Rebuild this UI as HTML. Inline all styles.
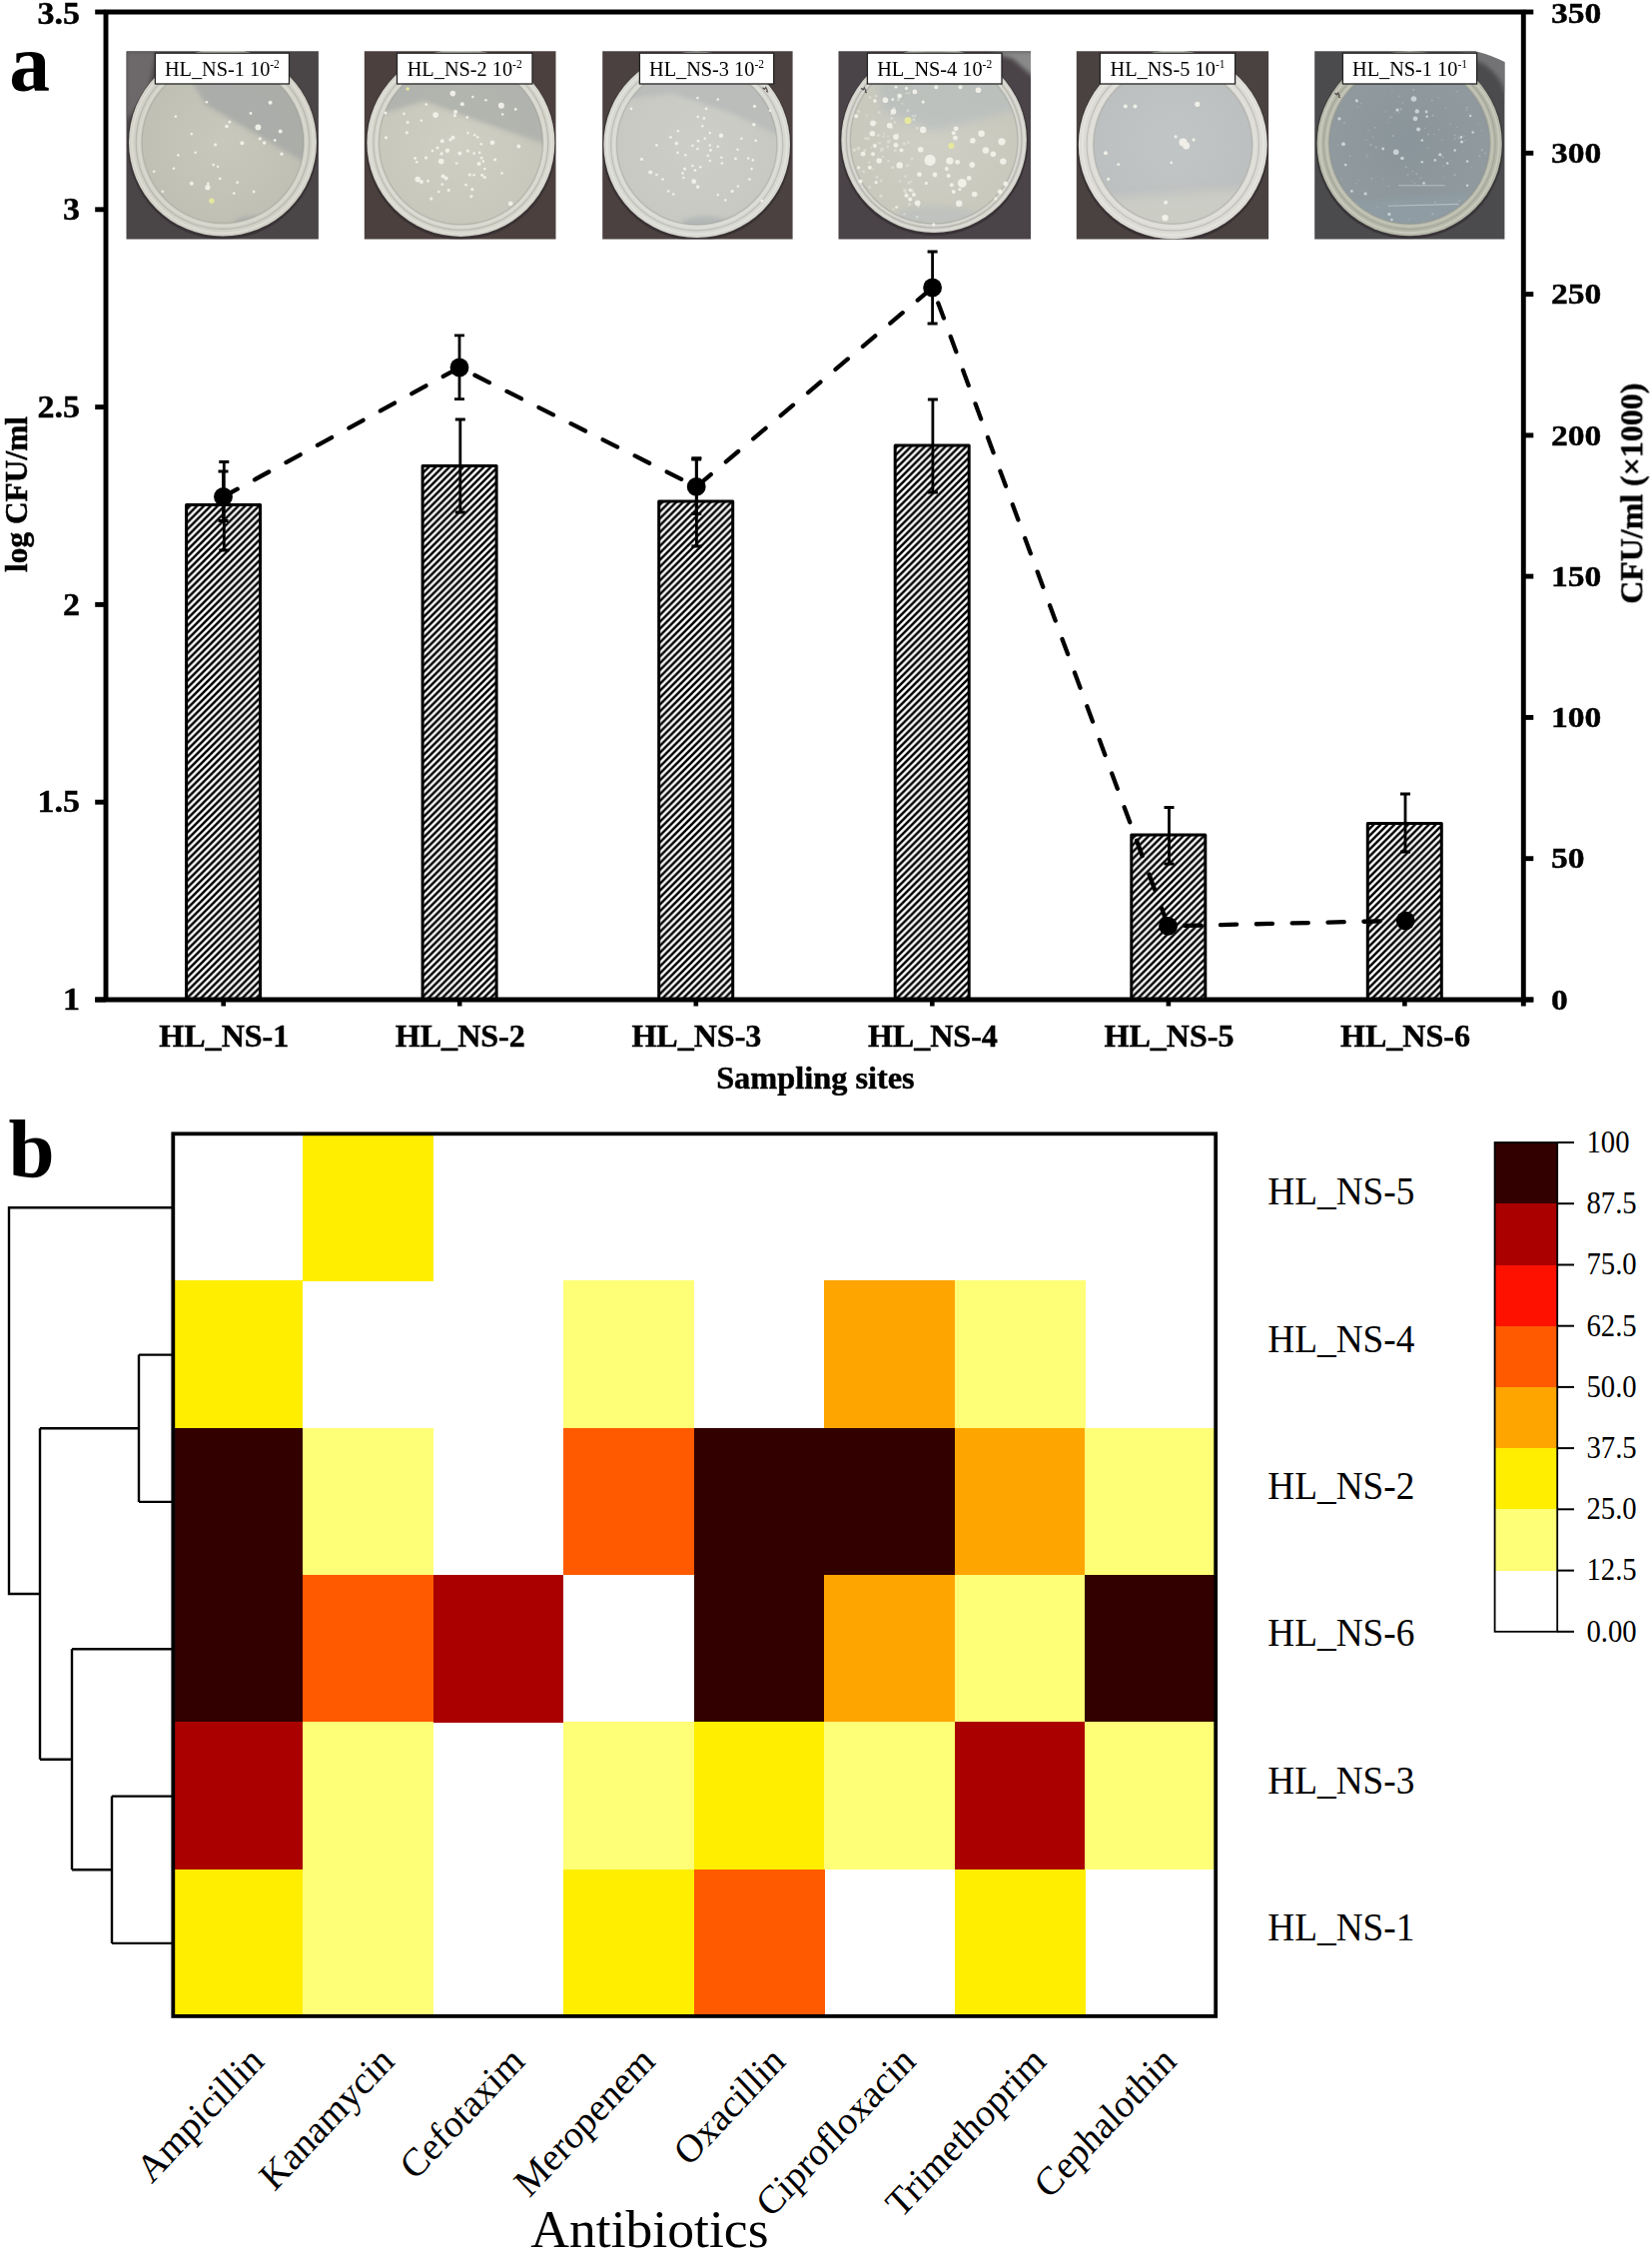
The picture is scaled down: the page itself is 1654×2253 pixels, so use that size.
<!DOCTYPE html>
<html lang="en"><head><meta charset="utf-8"><title>Figure</title>
<style>
html,body{margin:0;padding:0;background:#fff;}
body{width:1654px;height:2253px;overflow:hidden;}
svg{display:block;}
text{font-family:"Liberation Serif", "DejaVu Serif", serif;fill:#000;}
.b{font-weight:bold;}
</style></head><body>
<svg width="1654" height="2253" viewBox="0 0 1654 2253">
<defs>
<pattern id="hatch" patternUnits="userSpaceOnUse" width="6.9" height="6.9">
<rect width="6.9" height="6.9" fill="#fff"/>
<path d="M-1.725,1.725 L1.725,-1.725 M0,6.9 L6.9,0 M5.175,8.625 L8.625,5.175" stroke="#000" stroke-width="2.5"/>
</pattern>
<filter id="soft" x="-5%" y="-5%" width="110%" height="110%"><feGaussianBlur stdDeviation="0.6"/></filter>
<filter id="blur05"><feGaussianBlur stdDeviation="0.5"/></filter>
<filter id="blur1"><feGaussianBlur stdDeviation="0.75"/></filter>
<filter id="blur2"><feGaussianBlur stdDeviation="2.2"/></filter>
<filter id="blur4"><feGaussianBlur stdDeviation="5"/></filter>
</defs>
<rect width="1654" height="2253" fill="#fff"/>

<g id="panelA">
<g transform="translate(126.5,51.2)">
<clipPath id="pc0"><rect x="0" y="0" width="192.4" height="188.4"/></clipPath>
<clipPath id="pi0"><circle cx="96.5" cy="91.3" r="81"/></clipPath>
<radialGradient id="pg0" cx="96.5" cy="91.3" r="94" gradientUnits="userSpaceOnUse"><stop offset="0" stop-color="#c9c8bd"/><stop offset="0.8" stop-color="#c1c0b5"/><stop offset="1" stop-color="#c1c0b5"/></radialGradient>
<g clip-path="url(#pc0)">
<rect x="-6" y="-6" width="204.4" height="200.4" fill="#4a4547"/>
<g filter="url(#blur1)">
<path d="M0,0 H30 L22,40 L0,70Z" fill="#6d696a" filter="url(#blur2)"/>
<circle cx="96.5" cy="92.8" r="95.5" fill="#2e2a2b" opacity="0.6"/>
<circle cx="96.5" cy="91.3" r="94" fill="#d2d1c7"/>
<circle cx="96.5" cy="91.3" r="90.8" fill="none" stroke="#fff" stroke-opacity="0.25" stroke-width="1.8"/>
<circle cx="96.5" cy="91.3" r="86.8" fill="none" stroke="#77776e" stroke-opacity="0.28" stroke-width="1.2"/>
<circle cx="96.5" cy="91.3" r="83.6" fill="none" stroke="#fff" stroke-opacity="0.18" stroke-width="1.6"/>
<circle cx="96.5" cy="91.3" r="81" fill="url(#pg0)"/>
<g clip-path="url(#pi0)">
<path d="M64,28 L80,54 L200,124 L200,-10 L64,-10Z" fill="#a9aca8" opacity="0.95" filter="url(#blur2)"/>
<path d="M108,170 Q125,160 160,170 L150,192 L105,192Z" fill="#a4a9a8" opacity="0.8" filter="url(#blur2)"/>
</g>
<circle cx="96.5" cy="91.3" r="81" fill="none" stroke="#8f9088" stroke-opacity="0.35" stroke-width="1.4"/>
<g fill="#f2f2ea" opacity="0.95" filter="url(#blur05)"><circle cx="80.4" cy="51.1" r="1.3"/><circle cx="144.1" cy="51.5" r="2.0"/><circle cx="124.5" cy="62.3" r="1.4"/><circle cx="49.4" cy="65.4" r="1.3"/><circle cx="103.4" cy="71.0" r="1.4"/><circle cx="100.5" cy="75.4" r="1.8"/><circle cx="131.9" cy="76.3" r="3.0"/><circle cx="154.2" cy="80.3" r="2.0"/><circle cx="65.3" cy="82.9" r="1.3"/><circle cx="133.8" cy="87.7" r="1.6"/><circle cx="138.1" cy="91.8" r="1.8"/><circle cx="148.7" cy="89.3" r="1.4"/><circle cx="115.8" cy="92.1" r="2.0"/><circle cx="89.1" cy="93.7" r="1.6"/><circle cx="155.5" cy="103.0" r="1.6"/><circle cx="69.2" cy="101.5" r="1.3"/><circle cx="51.9" cy="104.2" r="1.3"/><circle cx="87.2" cy="113.9" r="1.4"/><circle cx="91.6" cy="115.6" r="1.3"/><circle cx="27.7" cy="120.6" r="1.3"/><circle cx="47.5" cy="117.6" r="1.3"/><circle cx="93.8" cy="127.6" r="1.4"/><circle cx="111.2" cy="131.5" r="1.4"/><circle cx="65.3" cy="132.5" r="2.0"/><circle cx="81.4" cy="136.5" r="2.6"/><circle cx="81.9" cy="132.8" r="1.4"/><circle cx="36.4" cy="140.5" r="1.3"/><circle cx="107.7" cy="142.4" r="1.4"/><circle cx="127.6" cy="140.8" r="1.4"/></g>
<g fill="#e6e89c"><circle cx="85.4" cy="149.9" r="2.7"/></g>
</g></g>
</g>
<g filter="url(#soft)"><rect x="155.4" y="53.2" width="134.1" height="30.8" fill="#fff" stroke="#222" stroke-width="1.3"/>
<text x="222.4" y="76.2" text-anchor="middle" font-size="20.3" style="font-family:'Liberation Serif', 'DejaVu Serif', serif">HL_NS-1 10<tspan font-size="11.5" dy="-8">-2</tspan></text></g>
<g transform="translate(364.8,51.2)">
<clipPath id="pc1"><rect x="0" y="0" width="191.7" height="188.4"/></clipPath>
<clipPath id="pi1"><circle cx="96.6" cy="91.7" r="82"/></clipPath>
<radialGradient id="pg1" cx="96.6" cy="91.7" r="94" gradientUnits="userSpaceOnUse"><stop offset="0" stop-color="#cfcfc4"/><stop offset="0.8" stop-color="#c8c8bd"/><stop offset="1" stop-color="#c8c8bd"/></radialGradient>
<g clip-path="url(#pc1)">
<rect x="-6" y="-6" width="203.7" height="200.4" fill="#4b403e"/>
<g filter="url(#blur1)">
<circle cx="96.6" cy="93.2" r="95.5" fill="#2e2a2b" opacity="0.6"/>
<circle cx="96.6" cy="91.7" r="94" fill="#d5d5cc"/>
<circle cx="96.6" cy="91.7" r="91.0" fill="none" stroke="#fff" stroke-opacity="0.25" stroke-width="1.8"/>
<circle cx="96.6" cy="91.7" r="87.4" fill="none" stroke="#77776e" stroke-opacity="0.28" stroke-width="1.2"/>
<circle cx="96.6" cy="91.7" r="84.4" fill="none" stroke="#fff" stroke-opacity="0.18" stroke-width="1.6"/>
<circle cx="96.6" cy="91.7" r="82" fill="url(#pg1)"/>
<g clip-path="url(#pi1)">
<path d="M20,-10 L20,62 L60,50 L120,72 L200,100 L200,-10Z" fill="#b0b3ad" opacity="0.95" filter="url(#blur2)"/>
<path d="M88,180 Q110,168 140,178 L140,192 L88,192Z" fill="#aeb3b2" opacity="0.7" filter="url(#blur2)"/>
</g>
<circle cx="96.6" cy="91.7" r="82" fill="none" stroke="#8f9088" stroke-opacity="0.35" stroke-width="1.4"/>
<g fill="#f2f2ea" opacity="0.95" filter="url(#blur05)"><circle cx="88.5" cy="42.4" r="2.8"/><circle cx="98.0" cy="53.1" r="2.0"/><circle cx="137.1" cy="54.6" r="3.0"/><circle cx="62.0" cy="53.4" r="1.4"/><circle cx="108.6" cy="45.9" r="1.3"/><circle cx="121.6" cy="49.0" r="1.3"/><circle cx="151.4" cy="58.3" r="1.4"/><circle cx="91.2" cy="60.8" r="2.0"/><circle cx="90.6" cy="64.5" r="1.6"/><circle cx="71.3" cy="63.9" r="2.8"/><circle cx="103.0" cy="66.4" r="1.4"/><circle cx="138.4" cy="63.3" r="1.3"/><circle cx="21.1" cy="61.8" r="1.6"/><circle cx="39.7" cy="62.7" r="1.3"/><circle cx="43.4" cy="71.3" r="1.6"/><circle cx="57.1" cy="69.5" r="1.3"/><circle cx="42.6" cy="81.6" r="1.6"/><circle cx="21.7" cy="86.6" r="1.6"/><circle cx="103.6" cy="81.9" r="1.3"/><circle cx="110.4" cy="84.1" r="1.3"/><circle cx="113.5" cy="86.2" r="1.3"/><circle cx="88.7" cy="86.6" r="2.0"/><circle cx="86.2" cy="88.7" r="1.6"/><circle cx="77.9" cy="90.0" r="2.0"/><circle cx="128.2" cy="91.6" r="2.4"/><circle cx="154.5" cy="95.3" r="2.0"/><circle cx="117.0" cy="93.1" r="1.3"/><circle cx="73.2" cy="96.8" r="1.6"/><circle cx="68.2" cy="99.9" r="1.4"/><circle cx="83.1" cy="99.5" r="2.2"/><circle cx="77.3" cy="102.7" r="1.6"/><circle cx="95.5" cy="102.4" r="2.0"/><circle cx="103.6" cy="99.9" r="1.6"/><circle cx="109.8" cy="102.4" r="1.3"/><circle cx="115.4" cy="101.7" r="1.3"/><circle cx="61.8" cy="106.7" r="1.6"/><circle cx="50.9" cy="107.3" r="1.4"/><circle cx="52.5" cy="111.1" r="1.3"/><circle cx="76.9" cy="110.4" r="2.8"/><circle cx="117.3" cy="107.0" r="1.4"/><circle cx="130.9" cy="108.6" r="1.6"/><circle cx="114.8" cy="112.9" r="2.0"/><circle cx="119.1" cy="110.4" r="1.3"/><circle cx="92.4" cy="112.3" r="1.3"/><circle cx="120.4" cy="117.9" r="1.3"/><circle cx="137.7" cy="122.2" r="1.3"/><circle cx="105.5" cy="123.8" r="1.6"/><circle cx="109.8" cy="124.1" r="1.3"/><circle cx="117.9" cy="124.1" r="1.6"/><circle cx="120.4" cy="126.3" r="1.6"/><circle cx="78.8" cy="125.3" r="2.0"/><circle cx="81.9" cy="127.2" r="2.0"/><circle cx="53.4" cy="128.4" r="2.8"/><circle cx="57.1" cy="130.9" r="2.0"/><circle cx="63.7" cy="130.0" r="1.4"/><circle cx="77.9" cy="133.4" r="1.3"/><circle cx="101.7" cy="134.0" r="1.4"/><circle cx="108.0" cy="138.4" r="1.6"/><circle cx="84.4" cy="139.2" r="1.6"/><circle cx="74.5" cy="140.8" r="1.3"/><circle cx="107.1" cy="145.4" r="1.6"/><circle cx="67.0" cy="147.7" r="1.6"/><circle cx="146.4" cy="152.6" r="2.4"/></g>
<g fill="#e6e89c"><circle cx="43.4" cy="37.8" r="1.7"/></g>
</g></g>
</g>
<g filter="url(#soft)"><rect x="397.5" y="53.2" width="135.5" height="30.8" fill="#fff" stroke="#222" stroke-width="1.3"/>
<text x="465.2" y="76.2" text-anchor="middle" font-size="20.3" style="font-family:'Liberation Serif', 'DejaVu Serif', serif">HL_NS-2 10<tspan font-size="11.5" dy="-8">-2</tspan></text></g>
<g transform="translate(603.2,51.2)">
<clipPath id="pc2"><rect x="0" y="0" width="190.4" height="188.4"/></clipPath>
<clipPath id="pi2"><circle cx="94.5" cy="93.5" r="80.3"/></clipPath>
<radialGradient id="pg2" cx="94.5" cy="93.5" r="93.3" gradientUnits="userSpaceOnUse"><stop offset="0" stop-color="#cdcec8"/><stop offset="0.8" stop-color="#c8c9c3"/><stop offset="1" stop-color="#c8c9c3"/></radialGradient>
<g clip-path="url(#pc2)">
<rect x="-6" y="-6" width="202.4" height="200.4" fill="#4a4140"/>
<g filter="url(#blur1)">
<circle cx="94.5" cy="95.0" r="94.8" fill="#2e2a2b" opacity="0.6"/>
<circle cx="94.5" cy="93.5" r="93.3" fill="#d8d8d2"/>
<circle cx="94.5" cy="93.5" r="90.0" fill="none" stroke="#fff" stroke-opacity="0.25" stroke-width="1.8"/>
<circle cx="94.5" cy="93.5" r="86.1" fill="none" stroke="#77776e" stroke-opacity="0.28" stroke-width="1.2"/>
<circle cx="94.5" cy="93.5" r="82.9" fill="none" stroke="#fff" stroke-opacity="0.18" stroke-width="1.6"/>
<circle cx="94.5" cy="93.5" r="80.3" fill="url(#pg2)"/>
<g clip-path="url(#pi2)">
<path d="M20,-10 L20,48 L70,42 L130,62 L200,95 L200,-10Z" fill="#b8bcba" opacity="0.9" filter="url(#blur2)"/>
<path d="M80,170 Q105,160 135,172 L135,192 L80,192Z" fill="#aab0b1" opacity="0.7" filter="url(#blur2)"/>
</g>
<circle cx="94.5" cy="93.5" r="80.3" fill="none" stroke="#8f9088" stroke-opacity="0.35" stroke-width="1.4"/>
<g fill="#f2f2ea" opacity="0.95" filter="url(#blur05)"><circle cx="95.2" cy="46.9" r="1.3"/><circle cx="115.6" cy="48.4" r="1.3"/><circle cx="152.3" cy="55.2" r="1.6"/><circle cx="103.9" cy="57.7" r="1.4"/><circle cx="28.8" cy="57.7" r="1.3"/><circle cx="167.8" cy="59.6" r="1.3"/><circle cx="95.5" cy="65.8" r="1.3"/><circle cx="101.7" cy="67.3" r="1.4"/><circle cx="151.6" cy="73.5" r="1.8"/><circle cx="100.1" cy="75.1" r="1.3"/><circle cx="75.7" cy="80.0" r="1.3"/><circle cx="107.6" cy="81.9" r="1.3"/><circle cx="118.7" cy="84.6" r="2.2"/><circle cx="68.2" cy="86.2" r="1.3"/><circle cx="102.6" cy="87.5" r="1.3"/><circle cx="139.2" cy="87.5" r="1.3"/><circle cx="153.5" cy="89.6" r="1.4"/><circle cx="95.8" cy="90.0" r="1.4"/><circle cx="74.1" cy="92.4" r="1.8"/><circle cx="54.2" cy="94.1" r="1.4"/><circle cx="90.2" cy="94.6" r="1.3"/><circle cx="95.2" cy="97.8" r="1.3"/><circle cx="107.6" cy="94.3" r="1.3"/><circle cx="115.6" cy="95.5" r="1.3"/><circle cx="108.2" cy="99.3" r="1.4"/><circle cx="135.3" cy="98.6" r="1.3"/><circle cx="75.3" cy="101.7" r="1.3"/><circle cx="83.1" cy="104.0" r="1.3"/><circle cx="105.7" cy="104.5" r="1.3"/><circle cx="119.1" cy="106.5" r="1.3"/><circle cx="133.3" cy="107.7" r="1.4"/><circle cx="39.3" cy="108.2" r="1.6"/><circle cx="146.0" cy="107.3" r="1.3"/><circle cx="150.6" cy="109.2" r="1.3"/><circle cx="107.6" cy="109.8" r="1.3"/><circle cx="119.6" cy="112.3" r="1.3"/><circle cx="90.2" cy="114.8" r="1.3"/><circle cx="98.0" cy="116.0" r="1.3"/><circle cx="82.4" cy="117.9" r="1.6"/><circle cx="92.7" cy="119.4" r="1.4"/><circle cx="149.4" cy="117.9" r="1.3"/><circle cx="48.0" cy="121.4" r="2.0"/><circle cx="54.2" cy="123.8" r="1.3"/><circle cx="80.3" cy="122.2" r="1.3"/><circle cx="81.2" cy="126.8" r="1.3"/><circle cx="60.4" cy="128.4" r="1.4"/><circle cx="147.3" cy="128.4" r="1.4"/><circle cx="91.5" cy="130.5" r="2.4"/><circle cx="95.5" cy="135.9" r="1.8"/><circle cx="135.7" cy="135.3" r="1.3"/><circle cx="129.9" cy="140.2" r="1.6"/><circle cx="66.0" cy="140.2" r="1.3"/><circle cx="71.0" cy="143.3" r="1.3"/><circle cx="115.6" cy="143.9" r="1.3"/><circle cx="123.1" cy="149.2" r="1.3"/><circle cx="159.7" cy="149.9" r="1.6"/></g>
<path d="M160.3,36.5 l2,1.6 l1.2,-1.8 l1.8,3.4 M163.8,40.0 l2.2,1" stroke="#3a2f33" stroke-width="1.2" fill="none" opacity="0.8"/>
</g></g>
</g>
<g filter="url(#soft)"><rect x="640.4" y="53.2" width="134.3" height="30.8" fill="#fff" stroke="#222" stroke-width="1.3"/>
<text x="707.5" y="76.2" text-anchor="middle" font-size="20.3" style="font-family:'Liberation Serif', 'DejaVu Serif', serif">HL_NS-3 10<tspan font-size="11.5" dy="-8">-2</tspan></text></g>
<g transform="translate(839.5,51.2)">
<clipPath id="pc3"><rect x="0" y="0" width="192.5" height="188.4"/></clipPath>
<clipPath id="pi3"><circle cx="95.6" cy="89" r="83.8"/></clipPath>
<radialGradient id="pg3" cx="95.6" cy="89" r="92.8" gradientUnits="userSpaceOnUse"><stop offset="0" stop-color="#cfcfc5"/><stop offset="0.8" stop-color="#c9c9be"/><stop offset="1" stop-color="#c9c9be"/></radialGradient>
<g clip-path="url(#pc3)">
<rect x="-6" y="-6" width="204.5" height="200.4" fill="#4a4347"/>
<g filter="url(#blur1)">
<path d="M150,0 H200 V30 L175,8Z" fill="#8a8a8a" filter="url(#blur2)"/>
<circle cx="95.6" cy="90.5" r="94.3" fill="#2e2a2b" opacity="0.6"/>
<circle cx="95.6" cy="89" r="92.8" fill="#d0d0c8"/>
<circle cx="95.6" cy="89" r="90.5" fill="none" stroke="#fff" stroke-opacity="0.25" stroke-width="1.8"/>
<circle cx="95.6" cy="89" r="87.8" fill="none" stroke="#77776e" stroke-opacity="0.28" stroke-width="1.2"/>
<circle cx="95.6" cy="89" r="85.6" fill="none" stroke="#fff" stroke-opacity="0.18" stroke-width="1.6"/>
<circle cx="95.6" cy="89" r="83.8" fill="url(#pg3)"/>
<g clip-path="url(#pi3)">
<path d="M30,-10 L45,60 L95,80 L150,66 L200,52 L200,-10Z" fill="#b6bcbd" opacity="0.7" filter="url(#blur4)"/>
<path d="M60,160 Q100,148 150,165 L150,192 L60,192Z" fill="#b9bfbf" opacity="0.6" filter="url(#blur2)"/>
</g>
<circle cx="95.6" cy="89" r="83.8" fill="none" stroke="#8f9088" stroke-opacity="0.35" stroke-width="1.4"/>
<g fill="#f2f2ea" opacity="0.95" filter="url(#blur05)"><circle cx="57.5" cy="36.0" r="1.4"/><circle cx="68.0" cy="37.2" r="1.6"/><circle cx="97.8" cy="36.0" r="2.0"/><circle cx="122.0" cy="36.0" r="2.0"/><circle cx="140.0" cy="39.1" r="2.8"/><circle cx="76.4" cy="40.7" r="2.4"/><circle cx="61.2" cy="44.9" r="2.4"/><circle cx="46.9" cy="49.0" r="2.8"/><circle cx="36.4" cy="49.9" r="1.8"/><circle cx="54.3" cy="48.4" r="1.4"/><circle cx="84.7" cy="50.9" r="1.6"/><circle cx="55.0" cy="60.6" r="2.8"/><circle cx="17.7" cy="65.1" r="2.0"/><circle cx="34.5" cy="72.2" r="2.8"/><circle cx="51.2" cy="74.5" r="2.8"/><circle cx="84.7" cy="78.8" r="3.2"/><circle cx="117.6" cy="77.6" r="2.4"/><circle cx="115.2" cy="82.1" r="2.0"/><circle cx="143.1" cy="82.5" r="3.2"/><circle cx="33.9" cy="82.5" r="2.8"/><circle cx="57.5" cy="85.9" r="2.8"/><circle cx="117.0" cy="86.9" r="2.4"/><circle cx="134.4" cy="89.6" r="2.8"/><circle cx="163.5" cy="90.6" r="3.6"/><circle cx="57.5" cy="94.1" r="2.4"/><circle cx="36.4" cy="94.9" r="2.0"/><circle cx="82.3" cy="98.6" r="2.8"/><circle cx="63.0" cy="99.3" r="2.0"/><circle cx="147.4" cy="99.3" r="3.2"/><circle cx="154.9" cy="103.0" r="2.8"/><circle cx="24.6" cy="103.0" r="2.4"/><circle cx="34.5" cy="103.0" r="2.0"/><circle cx="91.6" cy="109.2" r="5.6"/><circle cx="111.4" cy="109.8" r="3.6"/><circle cx="119.1" cy="111.1" r="2.4"/><circle cx="40.7" cy="109.8" r="2.8"/><circle cx="164.8" cy="110.4" r="3.2"/><circle cx="133.8" cy="113.9" r="2.8"/><circle cx="61.2" cy="114.2" r="3.2"/><circle cx="31.4" cy="116.6" r="2.0"/><circle cx="20.2" cy="116.6" r="1.6"/><circle cx="108.3" cy="117.9" r="2.0"/><circle cx="81.0" cy="123.5" r="2.4"/><circle cx="96.5" cy="123.8" r="2.4"/><circle cx="110.2" cy="124.7" r="2.0"/><circle cx="130.7" cy="127.2" r="2.4"/><circle cx="22.1" cy="130.3" r="2.0"/><circle cx="37.6" cy="131.5" r="1.6"/><circle cx="123.8" cy="132.2" r="4.4"/><circle cx="87.9" cy="132.2" r="1.6"/><circle cx="113.3" cy="134.0" r="2.0"/><circle cx="167.3" cy="132.8" r="2.4"/><circle cx="121.4" cy="138.4" r="1.6"/><circle cx="115.2" cy="140.8" r="2.0"/><circle cx="161.7" cy="140.8" r="2.4"/><circle cx="136.2" cy="143.3" r="2.8"/><circle cx="71.7" cy="139.0" r="1.6"/><circle cx="68.0" cy="144.6" r="2.0"/><circle cx="75.4" cy="143.9" r="2.0"/><circle cx="71.7" cy="148.3" r="2.0"/><circle cx="79.2" cy="152.0" r="2.8"/><circle cx="120.7" cy="152.6" r="3.2"/><circle cx="157.3" cy="147.7" r="1.6"/><circle cx="58.1" cy="156.3" r="1.3"/><circle cx="95.3" cy="173.7" r="1.6"/></g>
<g fill="#f0f0e6" opacity="0.45" filter="url(#blur05)"><circle cx="49.1" cy="95.8" r="1.4"/><circle cx="67.3" cy="125.0" r="1.0"/><circle cx="45.5" cy="82.6" r="1.0"/><circle cx="51.4" cy="89.6" r="1.1"/><circle cx="56.6" cy="99.4" r="1.5"/><circle cx="55.7" cy="57.3" r="1.6"/><circle cx="78.7" cy="166.0" r="1.4"/><circle cx="29.8" cy="87.6" r="1.7"/><circle cx="30.6" cy="111.4" r="1.2"/><circle cx="68.8" cy="60.3" r="1.0"/><circle cx="37.7" cy="44.8" r="1.3"/><circle cx="66.9" cy="125.5" r="1.3"/><circle cx="69.6" cy="59.5" r="1.4"/><circle cx="34.9" cy="118.2" r="0.9"/><circle cx="63.8" cy="52.6" r="1.0"/><circle cx="66.1" cy="163.2" r="1.2"/><circle cx="37.8" cy="71.9" r="1.1"/><circle cx="52.4" cy="63.2" r="0.9"/><circle cx="40.8" cy="61.4" r="1.4"/><circle cx="67.1" cy="141.1" r="1.3"/><circle cx="33.0" cy="96.5" r="0.8"/><circle cx="59.3" cy="83.1" r="1.1"/><circle cx="50.0" cy="90.8" r="1.7"/><circle cx="56.5" cy="71.4" r="1.3"/><circle cx="73.6" cy="107.6" r="1.4"/><circle cx="41.2" cy="92.1" r="1.2"/><circle cx="50.1" cy="110.0" r="1.3"/><circle cx="19.9" cy="97.4" r="1.8"/><circle cx="37.9" cy="44.6" r="0.8"/><circle cx="46.6" cy="46.6" r="0.9"/><circle cx="15.8" cy="99.0" r="1.8"/><circle cx="42.9" cy="99.6" r="1.2"/><circle cx="44.1" cy="98.1" r="1.5"/><circle cx="72.7" cy="130.7" r="1.2"/><circle cx="54.8" cy="158.2" r="1.0"/><circle cx="25.1" cy="120.5" r="1.5"/><circle cx="54.3" cy="116.5" r="1.6"/><circle cx="42.5" cy="145.0" r="1.8"/><circle cx="59.7" cy="155.5" r="0.8"/><circle cx="73.7" cy="139.7" r="1.8"/><circle cx="78.7" cy="77.1" r="1.5"/><circle cx="74.2" cy="65.0" r="1.1"/><circle cx="80.0" cy="155.4" r="1.3"/><circle cx="61.5" cy="130.4" r="1.3"/><circle cx="38.5" cy="126.3" r="1.4"/><circle cx="27.1" cy="87.4" r="1.4"/><circle cx="53.2" cy="67.2" r="1.4"/><circle cx="71.0" cy="153.3" r="1.5"/><circle cx="26.3" cy="99.4" r="1.6"/><circle cx="53.3" cy="76.7" r="1.5"/><circle cx="44.5" cy="106.0" r="1.1"/><circle cx="39.8" cy="84.4" r="1.5"/><circle cx="42.7" cy="98.1" r="1.3"/><circle cx="42.6" cy="129.7" r="1.5"/><circle cx="65.7" cy="92.7" r="1.6"/><circle cx="59.9" cy="48.5" r="1.6"/><circle cx="68.2" cy="42.1" r="1.1"/><circle cx="31.2" cy="136.3" r="1.4"/><circle cx="28.3" cy="64.2" r="1.0"/><circle cx="75.4" cy="68.6" r="1.5"/><circle cx="76.5" cy="64.9" r="1.4"/><circle cx="70.6" cy="42.1" r="1.0"/><circle cx="69.1" cy="114.7" r="1.3"/><circle cx="66.3" cy="139.3" r="1.8"/><circle cx="31.5" cy="46.2" r="1.5"/><circle cx="69.9" cy="91.6" r="1.4"/><circle cx="20.3" cy="60.5" r="1.4"/><circle cx="44.8" cy="85.4" r="1.2"/><circle cx="49.6" cy="85.2" r="0.9"/><circle cx="70.3" cy="131.8" r="1.4"/></g>
<g fill="#e6e89c"><circle cx="69.5" cy="69.5" r="3.4"/><circle cx="112.9" cy="94.9" r="3.0"/></g>
<path d="M22.7,37 l2,1.6 l1.2,-1.8 l1.8,3.4 M26.2,40.5 l2.2,1" stroke="#3a2f33" stroke-width="1.2" fill="none" opacity="0.8"/>
</g></g>
</g>
<g filter="url(#soft)"><rect x="868.4" y="53.2" width="134.6" height="30.8" fill="#fff" stroke="#222" stroke-width="1.3"/>
<text x="935.7" y="76.2" text-anchor="middle" font-size="20.3" style="font-family:'Liberation Serif', 'DejaVu Serif', serif">HL_NS-4 10<tspan font-size="11.5" dy="-8">-2</tspan></text></g>
<g transform="translate(1077.8,51.2)">
<clipPath id="pc4"><rect x="0" y="0" width="192.3" height="188.4"/></clipPath>
<clipPath id="pi4"><circle cx="96.5" cy="93.5" r="79.5"/></clipPath>
<radialGradient id="pg4" cx="96.5" cy="93.5" r="94.5" gradientUnits="userSpaceOnUse"><stop offset="0" stop-color="#c2c5c5"/><stop offset="0.8" stop-color="#bdc0c0"/><stop offset="1" stop-color="#bdc0c0"/></radialGradient>
<g clip-path="url(#pc4)">
<rect x="-6" y="-6" width="204.3" height="200.4" fill="#4a4241"/>
<g filter="url(#blur1)">
<circle cx="96.5" cy="95.0" r="96.0" fill="#2e2a2b" opacity="0.6"/>
<circle cx="96.5" cy="93.5" r="94.5" fill="#dcdbd5"/>
<circle cx="96.5" cy="93.5" r="90.8" fill="none" stroke="#fff" stroke-opacity="0.25" stroke-width="1.8"/>
<circle cx="96.5" cy="93.5" r="86.2" fill="none" stroke="#77776e" stroke-opacity="0.28" stroke-width="1.2"/>
<circle cx="96.5" cy="93.5" r="82.5" fill="none" stroke="#fff" stroke-opacity="0.18" stroke-width="1.6"/>
<circle cx="96.5" cy="93.5" r="79.5" fill="url(#pg4)"/>
<g clip-path="url(#pi4)">
<path d="M-5,150 L200,136 L200,200 L-5,200Z" fill="#d0d0c6" opacity="0.75" filter="url(#blur4)"/>
</g>
<circle cx="96.5" cy="93.5" r="79.5" fill="none" stroke="#8f9088" stroke-opacity="0.35" stroke-width="1.4"/>
<g fill="#f2f2ea" opacity="0.95" filter="url(#blur05)"><circle cx="49.0" cy="55.2" r="2.0"/><circle cx="58.7" cy="55.2" r="2.0"/><circle cx="121.0" cy="53.1" r="2.6"/><circle cx="99.3" cy="85.6" r="1.6"/><circle cx="117.3" cy="88.7" r="1.6"/><circle cx="106.7" cy="91.2" r="4.0"/><circle cx="109.8" cy="94.6" r="3.6"/><circle cx="29.2" cy="102.0" r="2.0"/><circle cx="41.9" cy="113.5" r="1.4"/><circle cx="94.9" cy="111.7" r="1.3"/><circle cx="31.9" cy="128.1" r="1.6"/><circle cx="89.3" cy="151.6" r="2.0"/><circle cx="88.7" cy="166.9" r="3.2"/></g>
</g></g>
</g>
<g filter="url(#soft)"><rect x="1101.4" y="53.2" width="135.2" height="30.8" fill="#fff" stroke="#222" stroke-width="1.3"/>
<text x="1169.0" y="76.2" text-anchor="middle" font-size="20.3" style="font-family:'Liberation Serif', 'DejaVu Serif', serif">HL_NS-5 10<tspan font-size="11.5" dy="-8">-1</tspan></text></g>
<g transform="translate(1316.2,51.2)">
<clipPath id="pc5"><rect x="0" y="0" width="190.2" height="188.4"/></clipPath>
<clipPath id="pi5"><circle cx="95" cy="92.4" r="80.6"/></clipPath>
<radialGradient id="pg5" cx="95" cy="92.4" r="92.6" gradientUnits="userSpaceOnUse"><stop offset="0" stop-color="#8a959b"/><stop offset="0.8" stop-color="#8f999e"/><stop offset="1" stop-color="#8f999e"/></radialGradient>
<g clip-path="url(#pc5)">
<rect x="-6" y="-6" width="202.2" height="200.4" fill="#4b4a4d"/>
<g filter="url(#blur1)">
<path d="M148,-4 H200 V78 L191,42 Q182,12 148,5Z" fill="#737376" filter="url(#blur2)"/>
<circle cx="95" cy="93.9" r="94.1" fill="#2e2a2b" opacity="0.6"/>
<circle cx="95" cy="92.4" r="92.6" fill="#b6b9a9"/>
<circle cx="95" cy="92.4" r="89.6" fill="none" stroke="#fff" stroke-opacity="0.25" stroke-width="1.8"/>
<circle cx="95" cy="92.4" r="86.0" fill="none" stroke="#77776e" stroke-opacity="0.28" stroke-width="1.2"/>
<circle cx="95" cy="92.4" r="83.0" fill="none" stroke="#fff" stroke-opacity="0.18" stroke-width="1.6"/>
<circle cx="95" cy="92.4" r="80.6" fill="url(#pg5)"/>
<g clip-path="url(#pi5)">
<path d="M30,150 L200,140 L200,192 L30,192Z" fill="#8fa0a8" opacity="0.5" filter="url(#blur2)"/>
</g>
<circle cx="95" cy="92.4" r="80.6" fill="none" stroke="#8f9088" stroke-opacity="0.35" stroke-width="1.4"/>
<g fill="#ccd5d9" opacity="0.95" filter="url(#blur05)"><circle cx="99.3" cy="47.8" r="2.8"/><circle cx="42.2" cy="49.6" r="1.6"/><circle cx="82.8" cy="58.9" r="1.6"/><circle cx="102.6" cy="60.2" r="2.2"/><circle cx="111.9" cy="60.8" r="1.4"/><circle cx="100.8" cy="67.6" r="2.4"/><circle cx="112.5" cy="65.5" r="1.3"/><circle cx="24.8" cy="67.6" r="1.6"/><circle cx="156.0" cy="64.8" r="1.3"/><circle cx="103.9" cy="78.2" r="2.0"/><circle cx="158.5" cy="81.3" r="1.3"/><circle cx="146.7" cy="86.2" r="1.3"/><circle cx="107.6" cy="89.3" r="1.3"/><circle cx="147.3" cy="90.8" r="1.6"/><circle cx="28.8" cy="93.1" r="2.0"/><circle cx="68.5" cy="97.8" r="1.4"/><circle cx="81.5" cy="101.1" r="2.8"/><circle cx="140.5" cy="99.3" r="1.3"/><circle cx="125.6" cy="103.6" r="1.6"/><circle cx="87.7" cy="107.3" r="1.8"/><circle cx="107.6" cy="111.1" r="1.3"/><circle cx="120.6" cy="109.2" r="1.3"/><circle cx="133.0" cy="112.3" r="1.3"/><circle cx="152.9" cy="110.4" r="1.3"/><circle cx="31.0" cy="113.9" r="1.4"/><circle cx="109.4" cy="132.2" r="1.3"/><circle cx="152.9" cy="134.6" r="1.3"/><circle cx="37.2" cy="140.2" r="1.4"/><circle cx="50.9" cy="142.7" r="1.6"/><circle cx="74.7" cy="163.2" r="1.6"/><circle cx="77.2" cy="168.8" r="1.3"/></g>
<g fill="#c9d3d7" opacity="0.4" filter="url(#blur05)"><circle cx="93.3" cy="123.6" r="0.9"/><circle cx="76.8" cy="66.1" r="1.0"/><circle cx="128.9" cy="115.2" r="0.8"/><circle cx="124.1" cy="46.8" r="0.8"/><circle cx="27.3" cy="128.0" r="0.7"/><circle cx="81.8" cy="151.4" r="0.5"/><circle cx="99.0" cy="38.6" r="1.1"/><circle cx="84.8" cy="45.3" r="0.7"/><circle cx="117.5" cy="49.5" r="0.9"/><circle cx="149.6" cy="85.1" r="0.8"/><circle cx="113.3" cy="96.5" r="0.7"/><circle cx="124.5" cy="78.5" r="0.7"/><circle cx="128.9" cy="126.1" r="0.6"/><circle cx="53.8" cy="79.5" r="0.8"/><circle cx="148.7" cy="100.0" r="0.5"/><circle cx="150.7" cy="89.5" r="0.8"/><circle cx="51.7" cy="89.1" r="0.7"/><circle cx="142.4" cy="40.4" r="0.8"/><circle cx="44.4" cy="129.4" r="0.5"/><circle cx="60.6" cy="76.6" r="0.9"/><circle cx="23.6" cy="93.9" r="0.6"/><circle cx="61.5" cy="96.4" r="1.1"/><circle cx="94.4" cy="168.4" r="0.6"/><circle cx="167.5" cy="79.6" r="0.6"/><circle cx="142.2" cy="76.3" r="0.6"/><circle cx="144.9" cy="149.8" r="0.9"/><circle cx="52.9" cy="104.1" r="0.8"/><circle cx="118.5" cy="64.4" r="1.1"/><circle cx="63.1" cy="156.0" r="0.7"/><circle cx="170.7" cy="102.3" r="0.9"/><circle cx="131.3" cy="57.1" r="0.7"/><circle cx="57.1" cy="127.5" r="0.9"/><circle cx="84.4" cy="61.2" r="0.8"/><circle cx="118.1" cy="163.0" r="1.1"/><circle cx="140.5" cy="87.6" r="0.9"/><circle cx="110.7" cy="77.1" r="0.7"/><circle cx="136.4" cy="109.5" r="0.5"/><circle cx="165.2" cy="105.2" r="1.0"/><circle cx="77.6" cy="39.7" r="0.7"/><circle cx="128.7" cy="106.2" r="0.9"/><circle cx="35.6" cy="105.1" r="0.9"/><circle cx="80.0" cy="61.9" r="0.7"/><circle cx="68.4" cy="127.8" r="0.6"/><circle cx="29.9" cy="71.9" r="0.9"/><circle cx="140.3" cy="123.9" r="1.1"/><circle cx="75.3" cy="29.5" r="0.8"/><circle cx="88.2" cy="51.9" r="0.9"/><circle cx="71.3" cy="60.8" r="0.7"/><circle cx="74.5" cy="67.0" r="0.6"/><circle cx="86.4" cy="58.1" r="1.1"/><circle cx="97.7" cy="129.7" r="0.6"/><circle cx="91.7" cy="116.0" r="1.0"/><circle cx="56.2" cy="93.9" r="1.0"/><circle cx="152.2" cy="59.1" r="0.8"/><circle cx="140.6" cy="84.3" r="0.9"/><circle cx="106.4" cy="127.1" r="0.7"/><circle cx="135.8" cy="73.3" r="0.8"/><circle cx="74.5" cy="71.1" r="0.6"/><circle cx="52.2" cy="106.6" r="0.7"/><circle cx="113.8" cy="83.4" r="1.0"/><circle cx="163.0" cy="73.1" r="0.6"/><circle cx="120.8" cy="151.4" r="0.9"/><circle cx="144.4" cy="86.9" r="0.9"/><circle cx="58.4" cy="86.0" r="0.7"/><circle cx="78.5" cy="84.9" r="1.0"/><circle cx="43.0" cy="55.8" r="0.7"/><circle cx="74.2" cy="135.2" r="0.7"/><circle cx="152.5" cy="56.7" r="1.0"/><circle cx="41.9" cy="132.4" r="0.7"/><circle cx="46.4" cy="52.6" r="0.7"/><circle cx="157.3" cy="116.0" r="0.6"/><circle cx="128.0" cy="105.4" r="0.8"/><circle cx="102.0" cy="122.7" r="1.0"/><circle cx="98.4" cy="120.3" r="0.8"/><circle cx="119.6" cy="83.3" r="0.7"/><circle cx="100.2" cy="132.3" r="0.7"/><circle cx="167.6" cy="98.7" r="1.0"/><circle cx="127.6" cy="89.0" r="0.7"/></g>
<path d="M84.0,134.6 L130.5,134.6" stroke="#bcc8cc" stroke-width="1.1" opacity="0.8"/>
<path d="M73.5,155.1 L144.2,153.2" stroke="#bcc8cc" stroke-width="1.1" opacity="0.8"/>
<path d="M20.1,42 l2,1.6 l1.2,-1.8 l1.8,3.4 M23.6,45.5 l2.2,1" stroke="#3a2f33" stroke-width="1.2" fill="none" opacity="0.8"/>
</g></g>
<path d="M158,-3 L162,0.2 Q178,4.2 192,11.6 L194,-3Z" fill="#fff" filter="url(#blur05)"/>
</g>
<g filter="url(#soft)"><rect x="1344.4" y="53.2" width="134.2" height="30.8" fill="#fff" stroke="#222" stroke-width="1.3"/>
<text x="1411.5" y="76.2" text-anchor="middle" font-size="20.3" style="font-family:'Liberation Serif', 'DejaVu Serif', serif">HL_NS-1 10<tspan font-size="11.5" dy="-8">-1</tspan></text></g>
<g id="bars">
<rect x="186.6" y="505.5" width="74.0" height="495.5" fill="url(#hatch)" stroke="#000" stroke-width="3" stroke-linejoin="round"/>
<rect x="423.1" y="466.5" width="74.0" height="534.5" fill="url(#hatch)" stroke="#000" stroke-width="3" stroke-linejoin="round"/>
<rect x="659.7" y="502" width="74.0" height="499.0" fill="url(#hatch)" stroke="#000" stroke-width="3" stroke-linejoin="round"/>
<rect x="896.2" y="446" width="74.0" height="555.0" fill="url(#hatch)" stroke="#000" stroke-width="3" stroke-linejoin="round"/>
<rect x="1132.8" y="836" width="74.0" height="165.0" fill="url(#hatch)" stroke="#000" stroke-width="3" stroke-linejoin="round"/>
<rect x="1369.3" y="824.5" width="74.0" height="176.5" fill="url(#hatch)" stroke="#000" stroke-width="3" stroke-linejoin="round"/>
<path d="M224.3,462.5 V551 M219.3,462.5 h10 M219.3,551 h10" stroke="#000" stroke-width="2.8" fill="none"/>
<path d="M460.8,420 V513 M455.8,420 h10 M455.8,513 h10" stroke="#000" stroke-width="2.8" fill="none"/>
<path d="M697.4,458.7 V547 M692.4,458.7 h10 M692.4,547 h10" stroke="#000" stroke-width="2.8" fill="none"/>
<path d="M933.9,400 V493 M928.9,400 h10 M928.9,493 h10" stroke="#000" stroke-width="2.8" fill="none"/>
<path d="M1170.5,808.5 V865 M1165.5,808.5 h10 M1165.5,865 h10" stroke="#000" stroke-width="2.8" fill="none"/>
<path d="M1407.0,795 V853 M1402.0,795 h10 M1402.0,853 h10" stroke="#000" stroke-width="2.8" fill="none"/>
<path d="M223.5,497.5 L460,368 L697.2,487.4 L933.6,288 L1169.6,927.3 L1407.2,921.8" fill="none" stroke="#000" stroke-width="4.3" stroke-dasharray="16.2 19.67" stroke-linecap="round"/>
<path d="M223.5,472 V521.5 M218.5,472 h10 M218.5,521.5 h10" stroke="#000" stroke-width="2.8" fill="none"/>
<circle cx="223.5" cy="497.5" r="9.4" fill="#000"/>
<path d="M460.0,335.8 V399.6 M455.0,335.8 h10 M455.0,399.6 h10" stroke="#000" stroke-width="2.8" fill="none"/>
<circle cx="460" cy="368" r="9.4" fill="#000"/>
<path d="M697.2,460 V514.5 M692.2,460 h10 M692.2,514.5 h10" stroke="#000" stroke-width="2.8" fill="none"/>
<circle cx="697.2" cy="487.4" r="9.4" fill="#000"/>
<path d="M933.6,252 V324 M928.6,252 h10 M928.6,324 h10" stroke="#000" stroke-width="2.8" fill="none"/>
<circle cx="933.6" cy="288" r="9.4" fill="#000"/>
<circle cx="1169.6" cy="927.3" r="9.4" fill="#000"/>
<circle cx="1407.2" cy="921.8" r="9.4" fill="#000"/>
</g>
<g id="axes" stroke="#000" stroke-width="4.9" fill="none" filter="url(#soft)">
<path d="M106,12 H1525.3 M106,9.8 V1003.2 M1525.3,9.8 V1007.5 M95.2,1001 H1535.3"/>
<path d="M95.2,1001.0 H106"/>
<path d="M95.2,803.2 H106"/>
<path d="M95.2,605.4 H106"/>
<path d="M95.2,407.6 H106"/>
<path d="M95.2,209.8 H106"/>
<path d="M95.2,12.0 H106"/>
<path d="M1525.3,1001.0 H1535.3"/>
<path d="M1525.3,859.7 H1535.3"/>
<path d="M1525.3,718.4 H1535.3"/>
<path d="M1525.3,577.1 H1535.3"/>
<path d="M1525.3,435.9 H1535.3"/>
<path d="M1525.3,294.6 H1535.3"/>
<path d="M1525.3,153.3 H1535.3"/>
<path d="M1525.3,12.0 H1535.3"/>
<path d="M223.7,1001 V1007.5" stroke-width="4.6"/>
<path d="M460.2,1001 V1007.5" stroke-width="4.6"/>
<path d="M696.8,1001 V1007.5" stroke-width="4.6"/>
<path d="M933.3,1001 V1007.5" stroke-width="4.6"/>
<path d="M1169.9,1001 V1007.5" stroke-width="4.6"/>
<path d="M1406.4,1001 V1007.5" stroke-width="4.6"/>
</g>
<g id="ticklabels" class="b" font-size="30.5" filter="url(#soft)" stroke="#000" stroke-width="0.45">
<text transform="translate(80,1011.1) scale(1.115,1)" text-anchor="end">1</text>
<text transform="translate(80,813.3) scale(1.115,1)" text-anchor="end">1.5</text>
<text transform="translate(80,615.5) scale(1.115,1)" text-anchor="end">2</text>
<text transform="translate(80,417.7) scale(1.115,1)" text-anchor="end">2.5</text>
<text transform="translate(80,219.9) scale(1.115,1)" text-anchor="end">3</text>
<text transform="translate(80,23.6) scale(1.115,1)" text-anchor="end">3.5</text>
<text transform="translate(1553,1010.6) scale(1.10,1)">0</text>
<text transform="translate(1553,869.3) scale(1.10,1)">50</text>
<text transform="translate(1553,728.0) scale(1.10,1)">100</text>
<text transform="translate(1553,586.7) scale(1.10,1)">150</text>
<text transform="translate(1553,445.5) scale(1.10,1)">200</text>
<text transform="translate(1553,304.2) scale(1.10,1)">250</text>
<text transform="translate(1553,162.9) scale(1.10,1)">300</text>
<text transform="translate(1553,22.8) scale(1.10,1)">350</text>
<text x="224.3" y="1047.7" text-anchor="middle" textLength="130" lengthAdjust="spacingAndGlyphs">HL_NS-1</text>
<text x="460.8" y="1047.7" text-anchor="middle" textLength="130" lengthAdjust="spacingAndGlyphs">HL_NS-2</text>
<text x="697.4" y="1047.7" text-anchor="middle" textLength="130" lengthAdjust="spacingAndGlyphs">HL_NS-3</text>
<text x="933.9" y="1047.7" text-anchor="middle" textLength="130" lengthAdjust="spacingAndGlyphs">HL_NS-4</text>
<text x="1170.5" y="1047.7" text-anchor="middle" textLength="130" lengthAdjust="spacingAndGlyphs">HL_NS-5</text>
<text x="1407.0" y="1047.7" text-anchor="middle" textLength="130" lengthAdjust="spacingAndGlyphs">HL_NS-6</text>
<text x="816.4" y="1089.5" text-anchor="middle" textLength="198.5" lengthAdjust="spacingAndGlyphs">Sampling sites</text>
<text transform="translate(27,495) rotate(-90)" text-anchor="middle" textLength="156" lengthAdjust="spacingAndGlyphs">log CFU/ml</text>
<text transform="translate(1644.3,494.2) rotate(-90)" text-anchor="middle" textLength="221" lengthAdjust="spacingAndGlyphs">CFU/ml (×1000)</text>
</g>
<text class="b" x="9.3" y="90.9" font-size="81.5">a</text>
</g>
<g id="panelB">
<g id="heat" shape-rendering="crispEdges">
<rect x="303.1" y="1135.0" width="130.8" height="147.6" fill="#ffee00"/>
<rect x="172.6" y="1282.3" width="130.8" height="147.6" fill="#ffee00"/>
<rect x="564.2" y="1282.3" width="130.8" height="147.6" fill="#ffff77"/>
<rect x="825.2" y="1282.3" width="130.8" height="147.6" fill="#ffa500"/>
<rect x="955.8" y="1282.3" width="130.8" height="147.6" fill="#ffff77"/>
<rect x="172.6" y="1429.7" width="130.8" height="147.6" fill="#330000"/>
<rect x="303.1" y="1429.7" width="130.8" height="147.6" fill="#ffff77"/>
<rect x="564.2" y="1429.7" width="130.8" height="147.6" fill="#ff5a00"/>
<rect x="694.7" y="1429.7" width="130.8" height="147.6" fill="#330000"/>
<rect x="825.2" y="1429.7" width="130.8" height="147.6" fill="#330000"/>
<rect x="955.8" y="1429.7" width="130.8" height="147.6" fill="#ffa500"/>
<rect x="1086.3" y="1429.7" width="130.8" height="147.6" fill="#ffff77"/>
<rect x="172.6" y="1577.0" width="130.8" height="147.6" fill="#330000"/>
<rect x="303.1" y="1577.0" width="130.8" height="147.6" fill="#ff5a00"/>
<rect x="433.6" y="1577.0" width="130.8" height="147.6" fill="#aa0000"/>
<rect x="694.7" y="1577.0" width="130.8" height="147.6" fill="#330000"/>
<rect x="825.2" y="1577.0" width="130.8" height="147.6" fill="#ffa500"/>
<rect x="955.8" y="1577.0" width="130.8" height="147.6" fill="#ffff77"/>
<rect x="1086.3" y="1577.0" width="130.8" height="147.6" fill="#330000"/>
<rect x="172.6" y="1724.3" width="130.8" height="147.6" fill="#aa0000"/>
<rect x="303.1" y="1724.3" width="130.8" height="147.6" fill="#ffff77"/>
<rect x="564.2" y="1724.3" width="130.8" height="147.6" fill="#ffff77"/>
<rect x="694.7" y="1724.3" width="130.8" height="147.6" fill="#ffee00"/>
<rect x="825.2" y="1724.3" width="130.8" height="147.6" fill="#ffff77"/>
<rect x="955.8" y="1724.3" width="130.8" height="147.6" fill="#aa0000"/>
<rect x="1086.3" y="1724.3" width="130.8" height="147.6" fill="#ffff77"/>
<rect x="172.6" y="1871.7" width="130.8" height="147.6" fill="#ffee00"/>
<rect x="303.1" y="1871.7" width="130.8" height="147.6" fill="#ffff77"/>
<rect x="564.2" y="1871.7" width="130.8" height="147.6" fill="#ffee00"/>
<rect x="694.7" y="1871.7" width="130.8" height="147.6" fill="#ff5a00"/>
<rect x="955.8" y="1871.7" width="130.8" height="147.6" fill="#ffee00"/>
</g>
<rect x="173.3" y="1135.3" width="1043.9" height="883.6" fill="none" stroke="#000" stroke-width="3.8"/>
<g id="dendro" stroke="#000" stroke-width="2.4" fill="none" transform="translate(0,0.6)">
<path d="M172.6,1208.7 H9 V1595.4 H40 M40,1429.7 V1761.2 M40,1429.7 H139 M139,1356.0 V1503.3 M172.6,1356.0 H139 M172.6,1503.3 H139 M40,1761.2 H72 M72,1650.7 V1871.7 M72,1650.7 H172.6 M72,1871.7 H112 M112,1798.0 V1945.3 M112,1798.0 H172.6 M112,1945.3 H172.6"/>
</g>
<g id="rowlabels" font-size="37.3">
<text transform="translate(1269.3,1206.4) scale(1,1.063)">HL_NS-5</text>
<text transform="translate(1269.3,1353.7) scale(1,1.063)">HL_NS-4</text>
<text transform="translate(1269.3,1501.0) scale(1,1.063)">HL_NS-2</text>
<text transform="translate(1269.3,1648.4) scale(1,1.063)">HL_NS-6</text>
<text transform="translate(1269.3,1795.7) scale(1,1.063)">HL_NS-3</text>
<text transform="translate(1269.3,1943.0) scale(1,1.063)">HL_NS-1</text>
</g>
<g id="collabels" font-size="37.3">
<text transform="translate(265.9,2066) scale(1,1.063) rotate(-45)" text-anchor="end">Ampicillin</text>
<text transform="translate(396.4,2066) scale(1,1.063) rotate(-45)" text-anchor="end">Kanamycin</text>
<text transform="translate(526.9,2066) scale(1,1.063) rotate(-45)" text-anchor="end">Cefotaxim</text>
<text transform="translate(657.4,2066) scale(1,1.063) rotate(-45)" text-anchor="end">Meropenem</text>
<text transform="translate(788.0,2066) scale(1,1.063) rotate(-45)" text-anchor="end">Oxacillin</text>
<text transform="translate(918.5,2066) scale(1,1.063) rotate(-45)" text-anchor="end">Ciprofloxacin</text>
<text transform="translate(1049.0,2066) scale(1,1.063) rotate(-45)" text-anchor="end">Trimethoprim</text>
<text transform="translate(1179.5,2066) scale(1,1.063) rotate(-45)" text-anchor="end">Cephalothin</text>
</g>
<text x="650.4" y="2249.5" text-anchor="middle" font-size="53.6">Antibiotics</text>
<g id="cbar">
<rect x="1496.6" y="1144.0" width="62.600000000000136" height="61.6" fill="#330000" shape-rendering="crispEdges"/>
<rect x="1496.6" y="1205.2" width="62.600000000000136" height="61.6" fill="#aa0000" shape-rendering="crispEdges"/>
<rect x="1496.6" y="1266.5" width="62.600000000000136" height="61.6" fill="#ff1100" shape-rendering="crispEdges"/>
<rect x="1496.6" y="1327.7" width="62.600000000000136" height="61.6" fill="#ff5a00" shape-rendering="crispEdges"/>
<rect x="1496.6" y="1388.9" width="62.600000000000136" height="61.6" fill="#ffa500" shape-rendering="crispEdges"/>
<rect x="1496.6" y="1450.1" width="62.600000000000136" height="61.6" fill="#ffee00" shape-rendering="crispEdges"/>
<rect x="1496.6" y="1511.3" width="62.600000000000136" height="61.6" fill="#ffff77" shape-rendering="crispEdges"/>
<rect x="1496.6" y="1572.6" width="62.600000000000136" height="61.6" fill="#ffffff" shape-rendering="crispEdges"/>
<rect x="1496.6" y="1144" width="62.600000000000136" height="489.8" fill="none" stroke="#000" stroke-width="1.8"/>
<path d="M1559.2,1144.0 H1576" stroke="#000" stroke-width="2"/>
<text transform="translate(1588.5,1153.8) scale(1,1.063)" font-size="28.7">100</text>
<path d="M1559.2,1205.2 H1576" stroke="#000" stroke-width="2"/>
<text transform="translate(1588.5,1215.0) scale(1,1.063)" font-size="28.7">87.5</text>
<path d="M1559.2,1266.5 H1576" stroke="#000" stroke-width="2"/>
<text transform="translate(1588.5,1276.2) scale(1,1.063)" font-size="28.7">75.0</text>
<path d="M1559.2,1327.7 H1576" stroke="#000" stroke-width="2"/>
<text transform="translate(1588.5,1337.5) scale(1,1.063)" font-size="28.7">62.5</text>
<path d="M1559.2,1388.9 H1576" stroke="#000" stroke-width="2"/>
<text transform="translate(1588.5,1398.7) scale(1,1.063)" font-size="28.7">50.0</text>
<path d="M1559.2,1450.1 H1576" stroke="#000" stroke-width="2"/>
<text transform="translate(1588.5,1459.9) scale(1,1.063)" font-size="28.7">37.5</text>
<path d="M1559.2,1511.3 H1576" stroke="#000" stroke-width="2"/>
<text transform="translate(1588.5,1521.1) scale(1,1.063)" font-size="28.7">25.0</text>
<path d="M1559.2,1572.6 H1576" stroke="#000" stroke-width="2"/>
<text transform="translate(1588.5,1582.4) scale(1,1.063)" font-size="28.7">12.5</text>
<path d="M1559.2,1633.8 H1576" stroke="#000" stroke-width="2"/>
<text transform="translate(1588.5,1643.6) scale(1,1.063)" font-size="28.7">0.00</text>
</g>
<text class="b" x="8.6" y="1178.4" font-size="83">b</text>
</g>
</svg>
</body></html>
